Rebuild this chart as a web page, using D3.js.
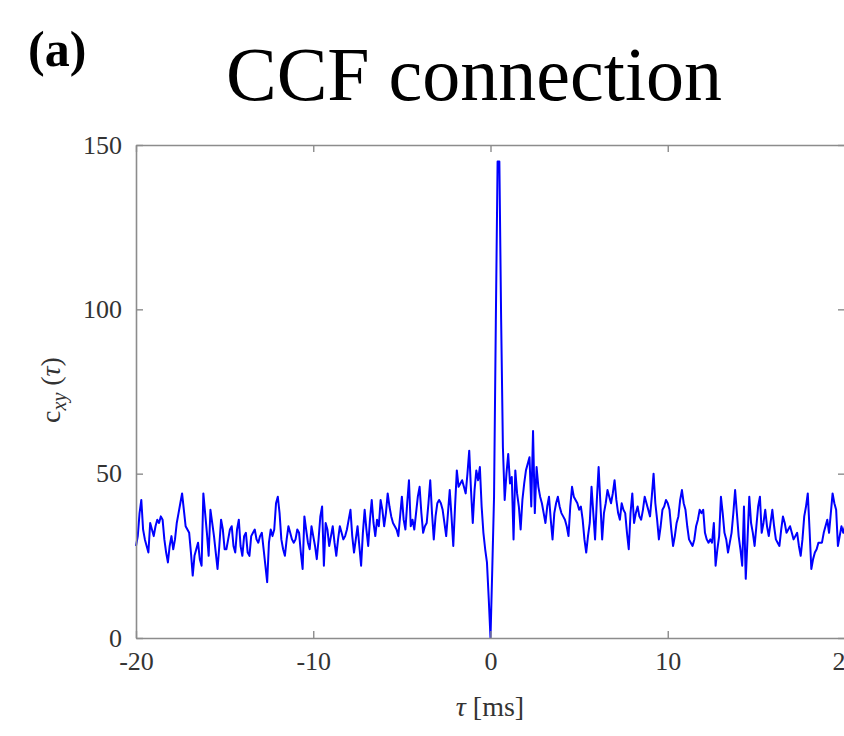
<!DOCTYPE html>
<html>
<head>
<meta charset="utf-8">
<script src="https://cdn.jsdelivr.net/npm/d3@7"></script>
<style>
  html, body { margin: 0; padding: 0; background: #fff; }
  svg { display: block; }
  text { font-family: "Liberation Serif", "Times New Roman", serif; }
</style>
</head>
<body>
<svg id="chart" width="844" height="736"></svg>
<script>
// Lag axis: -20 ms to +20 ms in 0.1 ms steps
const lagStart = -20;
const lagStep = 0.1;

// Cross-correlation counts c_xy(tau), one value per lag bin
const ccfValues = [
  28,31,38,42,33,30,28,26,35,33, 31,34,36,35,37,36,30,26,23,28,
  31,27,30,35,38,41,44,39,34,33, 32,26,19,25,27,29,24,22,44,38,
  32,25,39,35,31,26,21,28,36,33, 27,27,30,33,34,28,26,33,36,28,
  25,31,32,26,25,31,32,33,30,29, 31,32,27,22,17,29,33,31,33,41,
  43,38,30,27,25,30,34,32,30,29, 30,33,32,26,21,37,33,29,27,34,
  31,28,24,30,37,40,22,35,33,28, 31,34,29,25,30,34,32,30,31,33,
  36,39,31,26,30,34,28,22,32,39, 33,28,36,42,35,31,36,34,42,39,
  34,38,44,40,37,35,34,33,31,37, 43,36,33,41,48,34,36,33,38,43,
  46,38,32,34,35,41,48,38,30,37, 41,42,41,39,35,31,38,45,37,28,
  40,51,46,47,48,46,44,50,57,45, 35,45,51,48,52,40,32,27,23,12,
  0,21,43,96,145,145,97,58,42,50, 56,47,49,30,51,44,40,33,42,47,
  51,53,55,40,63,38,52,46,43,41, 38,35,40,43,36,30,38,41,43,40,
  38,37,36,34,31,40,46,43,42,41, 39,40,36,30,26,31,35,46,38,30,
  42,52,41,30,38,41,45,43,41,44, 48,42,38,36,41,39,38,32,27,38,
  44,35,38,40,37,36,39,43,41,39, 37,43,50,41,36,30,34,39,40,42,
  41,39,33,28,31,35,37,42,45,41, 39,34,30,29,28,30,34,36,39,38,
  39,32,30,29,30,29,35,22,27,31, 43,38,32,30,26,29,32,38,45,38,
  31,27,22,40,18,30,43,35,32,28, 34,40,43,32,35,39,34,31,35,39,
  34,30,29,28,33,37,35,32,33,34, 32,30,31,32,28,25,30,37,40,44,
  33,21,24,26,27,29,29,29,32,34, 36,32,38,44,41,39,28,31,34,32,
  34
];

const xTicks = [-20, -10, 0, 10, 20];
const yTicks = [0, 50, 100, 150];

const titleText = "CCF connection";
const panelLabel = "(a)";

const svg = d3.select("#chart");

const plot = { left: 136, right: 845, top: 145, bottom: 638 };

const x = d3.scaleLinear().domain([-20, 20]).range([plot.left, plot.right]);
const y = d3.scaleLinear().domain([0, 150]).range([plot.bottom, plot.top]);

const data = ccfValues.map((v, i) => ({ lag: lagStart + i * lagStep, value: v }));

const axisColor = "#8c8c8c";
const labelColor = "#333";
const plainNumber = d => String(d);

// Trace
svg.append("path")
  .datum(data)
  .attr("fill", "none")
  .attr("stroke", "#0000ff")
  .attr("stroke-width", 2)
  .attr("stroke-linejoin", "round")
  .attr("d", d3.line().x(d => x(d.lag)).y(d => y(d.value)));

// Box axes with inward ticks on all four sides
const tickLen = 7;
const bottomAxis = d3.axisBottom(x).tickValues(xTicks).tickFormat(plainNumber).tickSizeInner(-tickLen).tickSizeOuter(0).tickPadding(14);
const topAxis = d3.axisTop(x).tickValues(xTicks).tickSizeInner(-tickLen).tickSizeOuter(0).tickFormat("");
const leftAxis = d3.axisLeft(y).tickValues(yTicks).tickFormat(plainNumber).tickSizeInner(-tickLen).tickSizeOuter(0).tickPadding(14);
const rightAxis = d3.axisRight(y).tickValues(yTicks).tickSizeInner(-tickLen).tickSizeOuter(0).tickFormat("");

function styleAxis(g) {
  g.select(".domain").attr("stroke", axisColor).attr("stroke-width", 1.6);
  g.selectAll(".tick line").attr("stroke", axisColor).attr("stroke-width", 1.4);
  g.selectAll(".tick text")
    .attr("fill", labelColor)
    .style("font-family", "'Liberation Serif', 'Times New Roman', serif")
    .style("font-size", "26px");
}

svg.append("g").attr("transform", `translate(0,${plot.bottom})`).call(bottomAxis).call(styleAxis);
svg.append("g").attr("transform", `translate(0,${plot.top})`).call(topAxis).call(styleAxis);
svg.append("g").attr("transform", `translate(${plot.left},0)`).call(leftAxis).call(styleAxis);
svg.append("g").attr("transform", `translate(${plot.right},0)`).call(rightAxis).call(styleAxis);

// Title
svg.append("text")
  .attr("x", 474)
  .attr("y", 100)
  .attr("text-anchor", "middle")
  .attr("fill", "#000")
  .style("font-size", "76px")
  .text(titleText);

// Panel label
svg.append("text")
  .attr("x", 28)
  .attr("y", 66)
  .attr("fill", "#000")
  .style("font-size", "50px")
  .style("font-weight", "bold")
  .text(panelLabel);

// X axis label
const xl = svg.append("text")
  .attr("x", 490)
  .attr("y", 716)
  .attr("text-anchor", "middle")
  .attr("fill", labelColor)
  .style("font-size", "28px");
xl.append("tspan").style("font-style", "italic").text("τ");
xl.append("tspan").text(" [ms]");

// Y axis label
const yl = svg.append("text")
  .attr("transform", "translate(60,390) rotate(-90)")
  .attr("text-anchor", "middle")
  .attr("fill", labelColor)
  .style("font-size", "28px");
yl.append("tspan").text("c");
yl.append("tspan").attr("baseline-shift", "-30%").style("font-size", "20px").style("font-style", "italic").text("xy");
yl.append("tspan").text(" (");
yl.append("tspan").style("font-style", "italic").text("τ");
yl.append("tspan").text(")");
</script>
</body>
</html>
